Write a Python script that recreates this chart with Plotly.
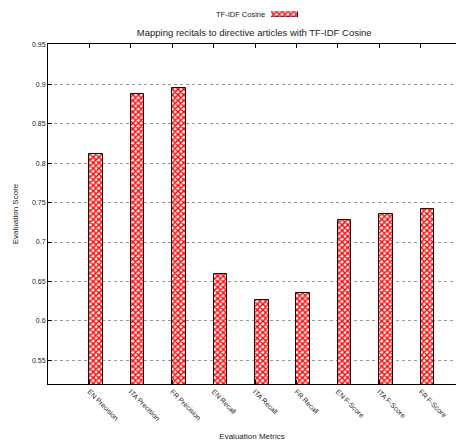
import plotly.graph_objects as go

categories = ["EN Precision", "ITA Precision", "FR Precision",
              "EN Recall", "ITA Recall", "FR Recall",
              "EN F-Score", "ITA F-Score", "FR F-Score"]
scores = [0.812, 0.887, 0.895, 0.660, 0.626, 0.635, 0.728, 0.735, 0.742]
series_name = "TF-IDF Cosine"
legend_sample = [1]
y_ticks = [0.55, 0.6, 0.65, 0.7, 0.75, 0.8, 0.85, 0.9, 0.95]
y_tick_text = ["0.55", "0.6", "0.65", "0.7", "0.75", "0.8", "0.85", "0.9", "0.95"]

FONT = "Liberation Sans, Arial, sans-serif"
W, H = 456, 441
L, B = 48, 57
PW, PH = W - L, H - B  # paper size (top margin 0)


def px_x(x):
    return (x - L) / PW


def px_y(y):
    return (PH - y) / PH


bar_marker = dict(
    color="white",
    line=dict(color="#2a0000", width=1),
    pattern=dict(shape="x", fgcolor="#ff0000", bgcolor="white", fgopacity=1,
                 size=4, solidity=0.6, fillmode="replace"),
)

fig = go.Figure()
fig.add_trace(go.Bar(
    x=list(range(len(categories))),
    y=scores,
    width=0.33,
    offset=0,
    name=series_name,
    marker=bar_marker,
    showlegend=False,
))
# legend sample (gnuplot-style key: text then swatch)
fig.add_trace(go.Bar(
    x=legend_sample, y=[0], orientation="h", width=1,
    xaxis="x2", yaxis="y2", marker=bar_marker, showlegend=False, hoverinfo="skip",
))

fig.update_layout(
    width=W, height=H,
    margin=dict(l=L, r=0, t=0, b=B),
    paper_bgcolor="white", plot_bgcolor="white",
    font=dict(family=FONT, size=8, color="#222"),
    title=dict(text="Mapping recitals to directive articles with TF-IDF Cosine",
               x=0.5575, xanchor="center", y=1 - 33 / H, yanchor="middle",
               font=dict(size=9.5, color="#222")),
    showlegend=False,
    bargap=0,
    xaxis=dict(
        domain=[0, 1],
        range=[-1, 8.855],
        tickmode="array",
        tickvals=list(range(len(categories))),
        ticktext=categories,
        tickangle=45,
        ticks="inside", ticklen=4, tickcolor="black",
        tickfont=dict(size=7, color="#222"),
        showline=True, linecolor="black", linewidth=1, mirror="ticks",
        showgrid=False, zeroline=False, automargin=False,
        title=dict(text="Evaluation Metrics", font=dict(size=8, color="#222"), standoff=13),
    ),
    yaxis=dict(
        domain=[0, px_y(44)],
        range=[0.52, 0.951],
        tickmode="array",
        tickvals=y_ticks,
        ticktext=y_tick_text,
        ticks="inside", ticklen=4, tickcolor="black",
        tickfont=dict(size=7, color="#222"),
        showline=True, linecolor="black", linewidth=1, mirror=False,
        showgrid=True, gridcolor="#999", griddash="dot", gridwidth=0.5,
        zeroline=False, automargin=False,
        title=dict(text="Evaluation Score", font=dict(size=8, color="#222"), standoff=12),
    ),
    xaxis2=dict(domain=[px_x(271), px_x(298)], range=[0, 1], visible=False, fixedrange=True),
    yaxis2=dict(domain=[px_y(17), px_y(11.5)], range=[-0.5, 0.5], visible=False, fixedrange=True,
                anchor="x2"),
    annotations=[dict(text=series_name, xref="paper", yref="paper",
                      x=px_x(267), y=px_y(14.3), xanchor="right", yanchor="middle",
                      showarrow=False, font=dict(size=7.5, color="#222"))],
)

fig.write_html("out.html", config={"displayModeBar": False},
               post_script="document.body.style.margin='0';document.body.style.overflow='hidden';")
